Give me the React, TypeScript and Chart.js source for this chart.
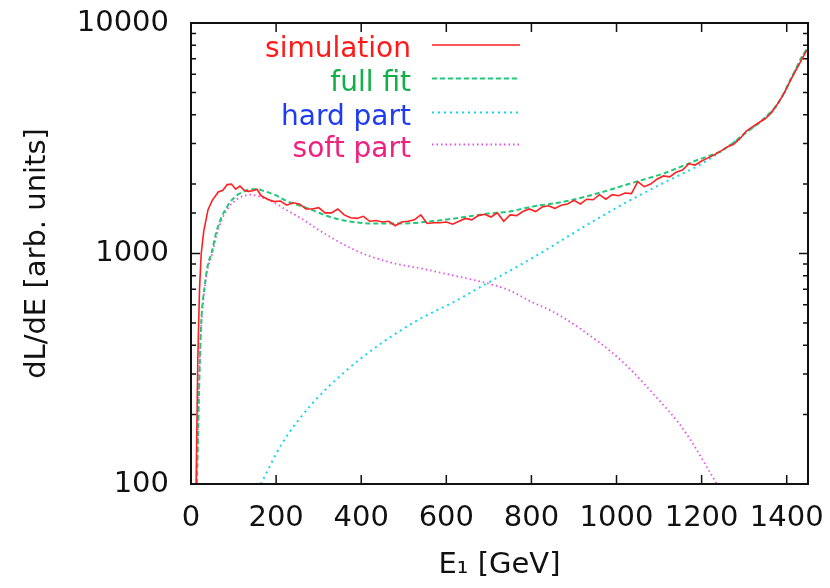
import React, { useEffect, useRef } from 'react';
import { Chart, registerables } from 'chart.js';

Chart.register(...registerables);

// ---------- data ----------
const simulationE = [12, 16, 20, 24, 30, 40, 50, 64, 75, 85, 95, 105, 115, 125, 135, 145, 155, 165, 180, 195, 210, 225, 240, 255, 270, 285, 300, 315, 330, 345, 360, 375, 390, 405, 420, 435, 450, 465, 480, 495, 510, 525, 540, 555, 570, 585, 600, 615, 630, 645, 660, 675, 690, 705, 720, 735, 750, 765, 780, 795, 810, 825, 840, 855, 870, 885, 900, 915, 930, 945, 960, 975, 990, 1005, 1020, 1035, 1050, 1065, 1080, 1095, 1110, 1125, 1140, 1155, 1170, 1185, 1200, 1215, 1230, 1245, 1260, 1275, 1290, 1305, 1320, 1335, 1350, 1365, 1380, 1395, 1410, 1425, 1440, 1447];
const simulationV = [100, 350, 700, 1000, 1250, 1550, 1700, 1850, 1880, 1990, 2000, 1900, 1960, 1880, 1860, 1870, 1900, 1780, 1720, 1680, 1690, 1620, 1660, 1640, 1560, 1560, 1580, 1500, 1500, 1560, 1470, 1430, 1420, 1450, 1380, 1390, 1370, 1380, 1320, 1370, 1380, 1400, 1470, 1350, 1360, 1360, 1370, 1340, 1380, 1420, 1400, 1460, 1480, 1440, 1500, 1380, 1470, 1460, 1520, 1560, 1520, 1590, 1610, 1570, 1620, 1640, 1700, 1640, 1720, 1710, 1800, 1720, 1800, 1780, 1830, 1820, 2050, 1950, 2000, 2100, 2170, 2150, 2250, 2300, 2450, 2420, 2520, 2600, 2680, 2780, 2900, 2980, 3150, 3400, 3550, 3700, 3850, 4100, 4500, 5000, 5700, 6400, 7200, 7600];

const fullFitE = [14, 20, 24, 32, 40, 48, 60, 72, 85, 95, 110, 125, 140, 155, 170, 197, 228, 275, 322, 369, 432, 503, 550, 620, 700, 746, 800, 878, 956, 1034, 1112, 1190, 1250, 1300, 1350, 1381, 1412, 1435, 1447];
const fullFitV = [100, 300, 500, 720, 900, 1000, 1250, 1440, 1600, 1700, 1800, 1860, 1900, 1900, 1870, 1795, 1680, 1570, 1450, 1380, 1350, 1350, 1370, 1420, 1490, 1518, 1595, 1680, 1824, 2018, 2230, 2545, 2810, 3300, 3900, 4530, 5830, 7100, 7700];

const hardPartE = [164, 214, 282, 359, 445, 532, 618, 700, 800, 900, 1000, 1100, 1200, 1250, 1300, 1350, 1381, 1412, 1435, 1447];
const hardPartV = [100, 150, 220, 304, 405, 513, 617, 750, 950, 1230, 1580, 1980, 2450, 2810, 3300, 3900, 4500, 5800, 7100, 7700];

const softPartE = [13, 20, 24, 32, 40, 48, 60, 72, 85, 95, 110, 125, 140, 155, 170, 188, 228, 252, 306, 385, 463, 542, 620, 700, 746, 800, 850, 916, 1012, 1099, 1150, 1186, 1229, 1236];
const softPartV = [100, 330, 480, 700, 870, 970, 1200, 1400, 1550, 1640, 1730, 1780, 1800, 1780, 1740, 1690, 1530, 1445, 1245, 1035, 920, 860, 800, 740, 695, 617, 560, 470, 342, 232, 180, 143, 105, 100];

const seriesLabels = ['simulation', 'full fit', 'hard part', 'soft part'];
const legendTextColors = ['#ff1a1a', '#12b048', '#1f3cf0', '#f0207f'];
const yDecades = [100, 1000, 10000];
const xTitle = 'E\u2081 [GeV]';
const yTitle = 'dL/dE [arb. units]';

const FONT = "'DejaVu Sans', 'Liberation Sans', sans-serif";
const FS = 29;

const toPoints = (xs: number[], ys: number[]) => xs.map((x, i) => ({ x, y: ys[i] }));

const zeroPadding = (scale: any) => {
  scale.paddingTop = 0;
  scale.paddingBottom = 0;
  scale.paddingLeft = 0;
  scale.paddingRight = 0;
};

const framePlugin = {
  id: 'gnuplotFrame',
  afterDatasetsDraw(chart: any) {
    const { ctx, chartArea, scales } = chart;
    const { left, right, top, bottom } = chartArea;
    const x = scales.x;
    const y = scales.y;
    ctx.save();
    ctx.strokeStyle = '#111';
    ctx.lineWidth = 1.5;
    ctx.setLineDash([]);
    ctx.beginPath();
    x.ticks.forEach((t: any) => {
      const px = x.getPixelForValue(t.value);
      ctx.moveTo(px, bottom);
      ctx.lineTo(px, bottom - 9);
      ctx.moveTo(px, top);
      ctx.lineTo(px, top + 9);
    });
    y.ticks.forEach((t: any) => {
      const py = y.getPixelForValue(t.value);
      const len = yDecades.includes(t.value) ? 9 : 5;
      ctx.moveTo(left, py);
      ctx.lineTo(left + len, py);
      ctx.moveTo(right, py);
      ctx.lineTo(right - len, py);
    });
    ctx.stroke();
    ctx.lineWidth = 2;
    ctx.strokeRect(left, top, right - left, bottom - top);

    // legend (gnuplot style: right-aligned text, sample on the right)
    const baselines = [34, 67.5, 101.5, 133.5];
    const textRight = left + 220;
    const sampleL = left + 241;
    const sampleR = left + 329;
    ctx.font = `${FS - 1}px ${FONT}`;
    ctx.textAlign = 'right';
    ctx.textBaseline = 'alphabetic';
    chart.data.datasets.forEach((ds: any, i: number) => {
      const by = top + baselines[i];
      ctx.fillStyle = legendTextColors[i];
      ctx.fillText(ds.label, textRight, by);
      ctx.strokeStyle = ds.borderColor;
      ctx.lineWidth = ds.borderWidth;
      ctx.setLineDash(ds.borderDash || []);
      ctx.beginPath();
      ctx.moveTo(sampleL, by - 12);
      ctx.lineTo(sampleR, by - 12);
      ctx.stroke();
    });
    ctx.restore();
  },
};

export default function App() {
  const canvasRef = useRef<HTMLCanvasElement | null>(null);

  useEffect(() => {
    document.body.style.margin = '0';
    const canvas = canvasRef.current;
    if (!canvas) return;
    const chart = new Chart(canvas, {
      type: 'line',
      data: {
        datasets: [
          {
            label: seriesLabels[0],
            data: toPoints(simulationE, simulationV),
            borderColor: '#ff2020',
            borderWidth: 1.6,
            pointRadius: 0,
            tension: 0,
          },
          {
            label: seriesLabels[1],
            data: toPoints(fullFitE, fullFitV),
            borderColor: '#22c878',
            borderWidth: 2,
            borderDash: [5, 3],
            pointRadius: 0,
            cubicInterpolationMode: 'monotone',
          },
          {
            label: seriesLabels[2],
            data: toPoints(hardPartE, hardPartV),
            borderColor: '#10d8f0',
            borderWidth: 2,
            borderDash: [2, 4],
            pointRadius: 0,
            cubicInterpolationMode: 'monotone',
          },
          {
            label: seriesLabels[3],
            data: toPoints(softPartE, softPartV),
            borderColor: '#e850e8',
            borderWidth: 1.8,
            borderDash: [1.5, 3],
            pointRadius: 0,
            cubicInterpolationMode: 'monotone',
          },
        ],
      } as any,
      options: {
        animation: false,
        responsive: true,
        maintainAspectRatio: false,
        layout: { padding: { left: 0, right: 22, top: 23, bottom: 0 } },
        plugins: { legend: { display: false }, tooltip: { enabled: false } },
        scales: {
          x: {
            type: 'linear',
            min: 0,
            max: 1450,
            grid: { display: false, drawTicks: false },
            border: { display: false },
            ticks: {
              stepSize: 200,
              includeBounds: false,
              autoSkip: false,
              maxRotation: 0,
              padding: 17,
              color: '#111',
              font: { family: FONT, size: FS },
              callback: (v: any) => String(v),
            },
            title: {
              display: true,
              text: xTitle,
              color: '#111',
              font: { family: FONT, size: FS },
              padding: { top: 0, bottom: 5 },
            },
            afterFit: (scale: any) => {
              scale.height = 104;
              zeroPadding(scale);
            },
          },
          y: {
            type: 'logarithmic',
            min: 100,
            max: 10000,
            grid: { display: false, drawTicks: false },
            border: { display: false },
            ticks: {
              autoSkip: false,
              padding: 22,
              color: '#111',
              font: { family: FONT, size: FS },
              callback: (v: any) => (yDecades.includes(Number(v)) ? String(v) : ''),
            },
            title: {
              display: true,
              text: yTitle,
              color: '#111',
              font: { family: FONT, size: FS },
              padding: { top: 20, bottom: 0 },
            },
            afterFit: (scale: any) => {
              scale.width = 191;
              zeroPadding(scale);
            },
          },
        },
      } as any,
      plugins: [framePlugin],
    });
    return () => chart.destroy();
  }, []);

  return (
    <div style={{ width: 830, height: 588, position: 'relative' }}>
      <canvas ref={canvasRef} />
    </div>
  );
}
